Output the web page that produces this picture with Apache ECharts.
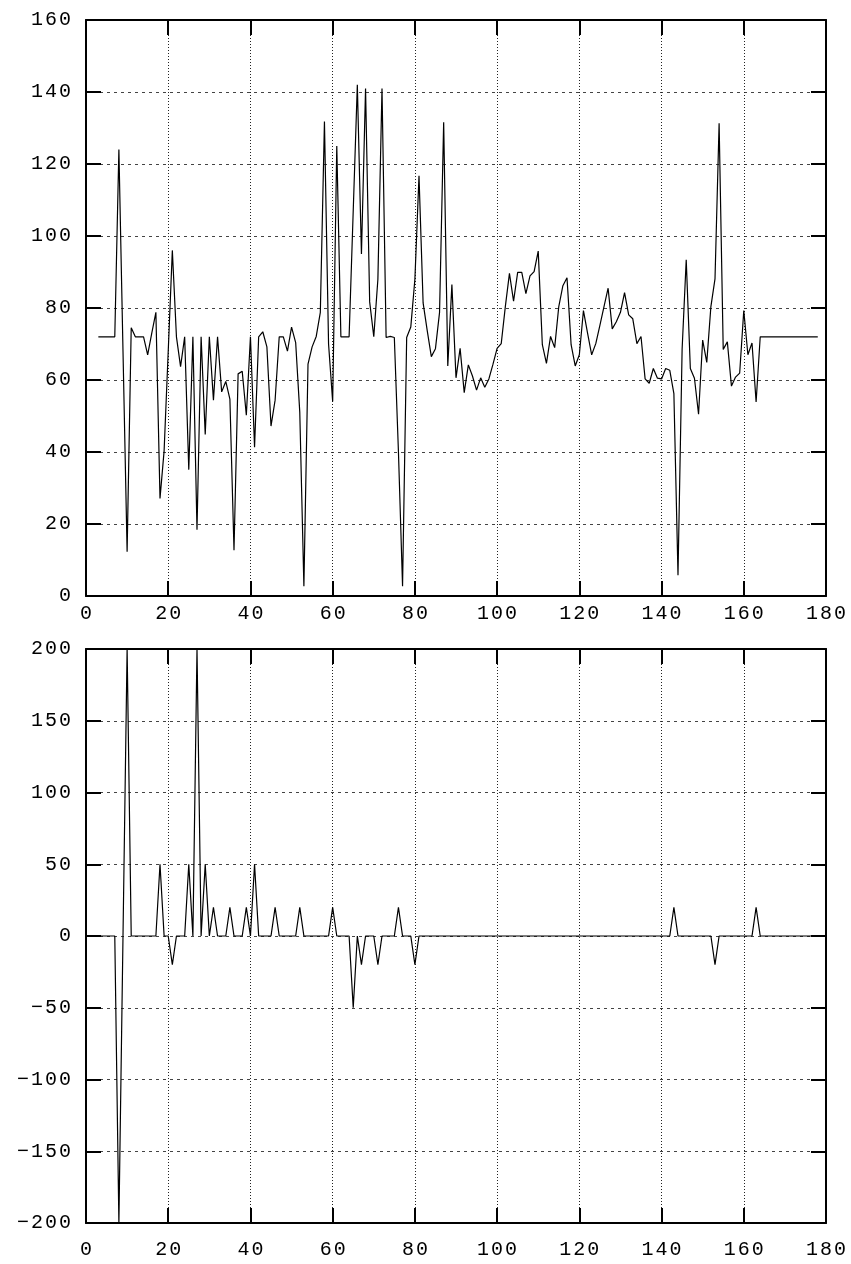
<!DOCTYPE html>
<html>
<head>
<meta charset="utf-8">
<script src="https://cdn.jsdelivr.net/npm/echarts@6/dist/echarts.min.js"></script>
<style>
  html, body { margin: 0; padding: 0; background: #fff; }
  #chart { width: 851px; height: 1264px; }
</style>
</head>
<body>
<div id="chart"></div>
<script>
// Sample index of the first value in both series
const xStart = 3;

// Upper panel: raw signal, one value per sample (x = 3 .. 178)
const signalValues = [
  72, 72, 72, 72, 72, 124, 68, 12.3, 74.5, 72,          // 3-12
  72, 72, 67, 73, 78.8, 27.1, 40.3, 68, 96, 72,         // 13-22
  63.7, 72, 35.1, 72, 18.4, 72, 44.9, 72, 54.4, 72,     // 23-32
  56.7, 59.6, 54.7, 12.7, 61.7, 62.4, 50.2, 72, 41.3, 72, // 33-42
  73.4, 69.2, 47.2, 54.4, 72, 72, 68, 74.7, 70.4, 51,   // 43-52
  2.7, 64.4, 69.2, 72.1, 78.8, 131.8, 70, 54, 125, 72,  // 53-62
  72, 72, 107, 142, 95, 141, 81.7, 72, 88, 141,         // 63-72
  71.8, 72.1, 71.8, 40, 2.7, 71.8, 74.7, 88, 116.7, 81.4, // 73-82
  73.7, 66.5, 68.7, 78.8, 131.6, 63.9, 86.5, 60.6, 68.8, 56.5, // 83-92
  64.2, 61.1, 57.2, 60.6, 58, 60.3, 64.4, 68.8, 70.1, 80.4,    // 93-102
  89.6, 81.9, 89.9, 89.9, 84, 88.9, 90.1, 95.8, 69.8, 64.6,    // 103-112
  72.1, 69, 80.4, 86.2, 88.4, 69.8, 63.9, 67, 79.3, 73,        // 113-122
  67, 70.1, 75.2, 80.4, 85.5, 74.2, 76.2, 78.8, 84.3, 78.1,    // 123-132
  77, 70.1, 72.1, 60.3, 59.1, 63.2, 60.5, 60.3, 63.2, 62.7,    // 133-142
  56.2, 5.8, 68.5, 93.4, 63.2, 60.5, 50.5, 71.1, 64.9, 80.4,   // 143-152
  88.1, 131.3, 68.5, 70.6, 58.3, 60.8, 61.9, 79.3, 67, 70.3,   // 153-162
  53.9, 72, 72, 72, 72, 72, 72, 72, 72, 72,                    // 163-172
  72, 72, 72, 72, 72, 72                                       // 173-178
];

// Lower panel: step changes, clipped to +/-200 (x = 3 .. 178)
const diffValues = [
  0, 0, 0, 0, 0, -200, 0, 200, 0, 0,     // 3-12
  0, 0, 0, 0, 0, 50, 0, 0, -20, 0,       // 13-22
  0, 0, 50, 0, 200, 0, 50, 0, 20, 0,     // 23-32
  0, 0, 20, 0, 0, 0, 20, 0, 50, 0,       // 33-42
  0, 0, 0, 20, 0, 0, 0, 0, 0, 20,        // 43-52
  0, 0, 0, 0, 0, 0, 0, 20, 0, 0,         // 53-62
  0, 0, -50, 0, -20, 0, 0, 0, -20, 0,    // 63-72
  0, 0, 0, 20, 0, 0, 0, -20, 0, 0,       // 73-82
  0, 0, 0, 0, 0, 0, 0, 0, 0, 0,          // 83-92
  0, 0, 0, 0, 0, 0, 0, 0, 0, 0,          // 93-102
  0, 0, 0, 0, 0, 0, 0, 0, 0, 0,          // 103-112
  0, 0, 0, 0, 0, 0, 0, 0, 0, 0,          // 113-122
  0, 0, 0, 0, 0, 0, 0, 0, 0, 0,          // 123-132
  0, 0, 0, 0, 0, 0, 0, 0, 0, 0,          // 133-142
  20, 0, 0, 0, 0, 0, 0, 0, 0, 0,         // 143-152
  -20, 0, 0, 0, 0, 0, 0, 0, 0, 0,        // 153-162
  20, 0, 0, 0, 0, 0, 0, 0, 0, 0,         // 163-172
  0, 0, 0, 0, 0, 0                       // 173-178
];

// Axis ranges and tick steps
const xRange = { min: 0, max: 180, interval: 20 };
const signalRange = { min: 0, max: 160, interval: 20 };
const diffRange = { min: -200, max: 200, interval: 50 };

const FONT = 'Liberation Mono';

// Spread tick-label digits apart like a wide typewriter face
function spaced(v) {
  return String(v).replace('-', '\u2212').split('')
    .map(c => '{d|' + c + '}').join('');
}
const richDigits = {
  d: { fontFamily: FONT, fontSize: 20, color: '#000', padding: [0, 1, 0, 1] }
};

const tickStyle = { inside: true, length: 15, lineStyle: { color: '#000', width: 2 } };
const frameLine = { show: true, onZero: false, lineStyle: { color: '#000', width: 2 } };
const vGrid = { show: true, lineStyle: { color: '#222', width: 1, type: [1, 2] } };
const hGrid = { show: true, lineStyle: { color: '#444', width: 1, type: [3, 4] } };

function xAxes(gridIndex, labelMargin) {
  return [
    {
      type: 'value', gridIndex, position: 'bottom', ...xRange,
      axisLine: frameLine, axisTick: tickStyle,
      axisLabel: { margin: labelMargin, formatter: spaced, rich: richDigits },
      splitLine: vGrid
    },
    {
      type: 'value', gridIndex, position: 'top', ...xRange,
      axisLine: frameLine, axisTick: tickStyle,
      axisLabel: { show: false }, splitLine: { show: false }
    }
  ];
}

function yAxes(gridIndex, range) {
  return [
    {
      type: 'value', gridIndex, position: 'left', ...range,
      axisLine: frameLine, axisTick: tickStyle,
      axisLabel: { margin: 14, formatter: spaced, rich: richDigits },
      splitLine: hGrid
    },
    {
      type: 'value', gridIndex, position: 'right', ...range,
      axisLine: frameLine, axisTick: tickStyle,
      axisLabel: { show: false }, splitLine: { show: false }
    }
  ];
}

const toPoints = arr => arr.map((v, i) => [xStart + i, v]);

const lineStyle = { color: '#000', width: 1.2 };

const option = {
  backgroundColor: '#fff',
  animation: false,
  grid: [
    { left: 86, top: 20, width: 740, height: 576 },
    { left: 86, top: 649, width: 740, height: 574 }
  ],
  xAxis: [...xAxes(0, 8), ...xAxes(1, 17)],
  yAxis: [...yAxes(0, signalRange), ...yAxes(1, diffRange)],
  series: [
    {
      type: 'line', xAxisIndex: 0, yAxisIndex: 0,
      data: toPoints(signalValues),
      symbol: 'none', lineStyle
    },
    {
      type: 'line', xAxisIndex: 2, yAxisIndex: 2,
      data: toPoints(diffValues),
      symbol: 'none', lineStyle
    }
  ]
};

const chart = echarts.init(document.getElementById('chart'), null, { renderer: 'canvas' });
chart.setOption(option);
</script>
</body>
</html>
